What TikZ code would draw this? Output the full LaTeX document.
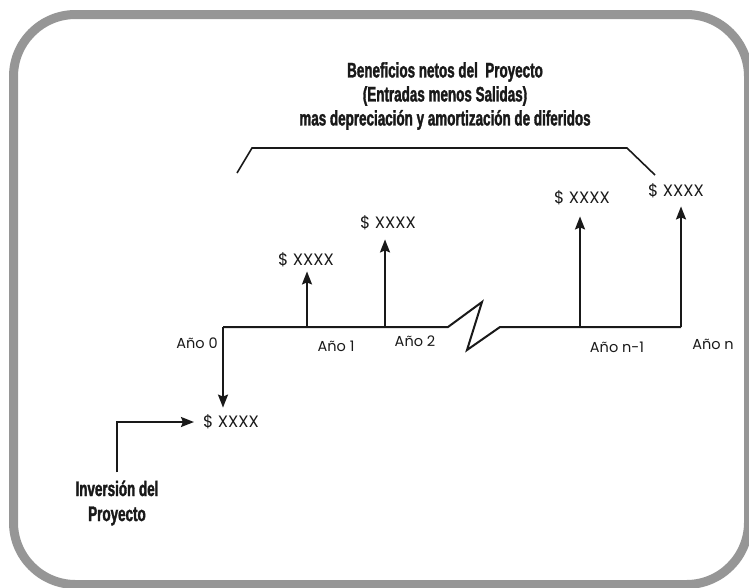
\documentclass[tikz,border=0pt]{standalone}
\usepackage{fontspec}
\setmainfont{Poppins}
\newfontfamily\headfont[FakeStretch=0.64,FakeBold=1.6]{Liberation Sans}
\usetikzlibrary{arrows.meta,positioning}
\definecolor{framegray}{RGB}{150,150,150}
\definecolor{ink}{RGB}{25,25,25}
\tikzset{
  frame/.style={draw=framegray, line width=9pt, rounded corners=62pt},
  axis/.style={draw=ink, line width=2pt, line join=miter},
  flow/.style={draw=ink, line width=2pt, -{Stealth[length=13pt,width=10pt,inset=2pt]}},
  brace/.style={draw=ink, line width=1.6pt},
  amt/.style={font=\fontsize{16.5}{18}\selectfont, text=ink, inner sep=0pt},
  yr/.style={font=\fontsize{14.5}{16}\selectfont, text=ink, inner sep=0pt},
  head/.style={font=\headfont\bfseries\fontsize{21}{24}\selectfont, text=ink, align=center, inner sep=0pt},
}
\begin{document}
\begin{tikzpicture}[x=1pt,y=-1pt]
\useasboundingbox (0,0) rectangle (749,587);
\draw[frame] (13.5,14.5) rectangle (748.5,584.5);
% title and bracket
\node[head] (title) at (445,96) {Beneficios netos del\ \ Proyecto\\(Entradas menos Salidas)\\mas depreciación y amortización de diferidos};
\coordinate (bl) at (237,173);
\coordinate (blt) at (252,148);
\coordinate (brt) at (627,148);
\coordinate (br) at (655,175);
\draw[brace] (bl) -- (blt) -- (brt) -- (br);
% time line
\coordinate (y0) at (223,327);
\coordinate (y1) at (307,327);
\coordinate (y2) at (385,327);
\coordinate (cut) at (448,327);
\coordinate (cutt) at (482,302);
\coordinate (cutb) at (467,350);
\coordinate (cute) at (500,327);
\coordinate (yn1) at (580,327);
\coordinate (yn) at (681,327);
\draw[axis] (y0) -- (y2) -- (cut) -- (cutt) -- (cutb) -- (cute) -- (yn);
\node[yr] (l0) at (197,343) {Año 0};
\node[yr] (l1) at (336,346) {Año 1};
\node[yr] (l2) at (415,341) {Año 2};
\node[yr] (ln1) at (617,347) {Año n-1};
\node[yr] (ln) at (713,344) {Año n};
% amounts
\node[amt] (a1) at (306,260) {\$ XXXX};
\node[amt] (a2) at (388,223) {\$ XXXX};
\node[amt] (an1) at (582,198) {\$ XXXX};
\node[amt] (an) at (676,191) {\$ XXXX};
\node[amt] (a0) at (231,422) {\$ XXXX};
\draw[flow, shorten >=4pt] (y1) -- (y1 |- a1.south);
\draw[flow, shorten >=9pt] (y2) -- (y2 |- a2.south);
\draw[flow, shorten >=11pt] (yn1) -- (yn1 |- an1.south);
\draw[flow, shorten >=8pt] (yn) -- (yn |- an.south);
\draw[flow, shorten >=7pt] (y0) -- (y0 |- a0.north);
% investment
\node[head, font=\headfont\bfseries\fontsize{21}{25}\selectfont] (inv) at (117,503) {Inversión del\\Proyecto};
\draw[flow, shorten <=8pt, shorten >=9pt] (inv.north) |- (a0.west);
\end{tikzpicture}
\end{document}
